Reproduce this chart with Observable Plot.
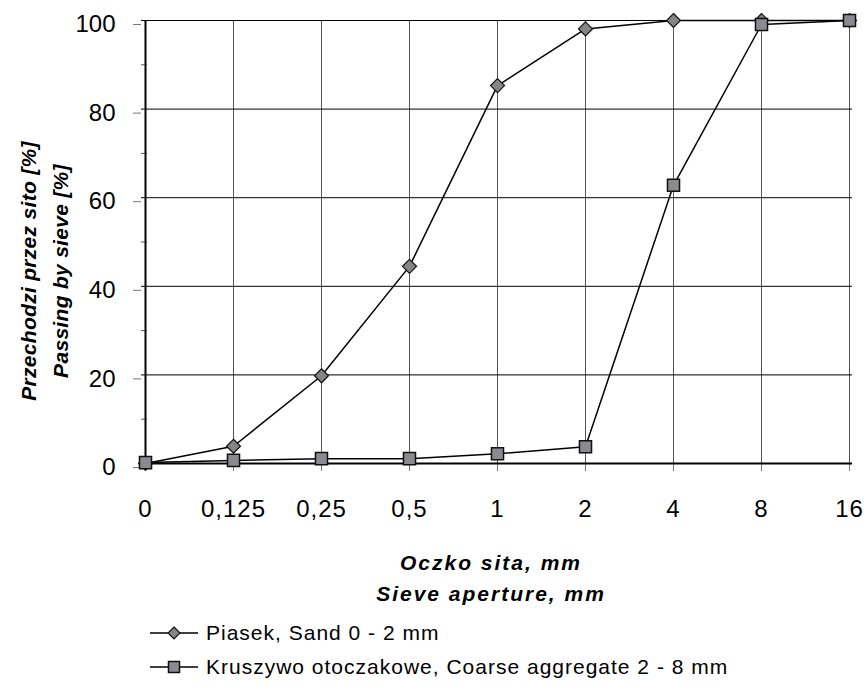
<!DOCTYPE html>
<html><head><meta charset="utf-8">
<script src="https://cdn.jsdelivr.net/npm/d3@7"></script>
<script src="https://cdn.jsdelivr.net/npm/@observablehq/plot@0.6"></script>
<style>
body{margin:0;background:#fff;}
#chart{font-family:"Liberation Sans",Arial,sans-serif;}
#chart g[aria-label="x-axis tick label"] text{letter-spacing:1px;}
#legend{font-family:"Liberation Sans",Arial,sans-serif;font-size:21px;letter-spacing:1px;color:#000;padding-top:6px;margin-left:150px;}
#legend .row{height:34px;display:flex;align-items:center;}
#legend svg{margin-right:8px;}
</style></head><body>
<div id="chart"></div>
<div id="legend"></div>
<script>
const sieves = ["0", "0,125", "0,25", "0,5", "1", "2", "4", "8", "16"];
const sandPass = [0, 3.9, 19.8, 44.5, 85.3, 98.1, 100, 100, 100];
const coarsePass = [0.2, 0.7, 1.1, 1.1, 2.2, 3.8, 62.8, 99.1, 100];
const yTicks = [0, 20, 40, 60, 80, 100];
const yMinor = [10, 30, 50, 70, 90];
const seriesNames = ["Piasek, Sand 0 - 2 mm", "Kruszywo otoczakowe, Coarse aggregate 2 - 8 mm"];
const xTitle = ["Oczko sita, mm", "Sieve aperture, mm"];
const yTitle = ["Przechodzi przez sito [%]", "Passing by sieve [%]"];

const sandData = sieves.map((s, i) => ({sieve: s, pass: sandPass[i]}));
const coarseData = sieves.map((s, i) => ({sieve: s, pass: coarsePass[i]}));

const chart = Plot.plot({
  width: 866, height: 610,
  marginLeft: 141, marginRight: 14, marginTop: 20, marginBottom: 147,
  style: {background: "white", overflow: "visible", fontFamily: '"Liberation Sans",Arial,sans-serif'},
  x: {type: "point", domain: sieves, padding: 0},
  y: {domain: [0, 100]},
  marks: [
    Plot.ruleX(sieves.slice(1), {stroke: "#555", strokeWidth: 1}),
    Plot.ruleY(yTicks.slice(1), {stroke: "#000", strokeWidth: 1}),
    Plot.axisY({ticks: yTicks, tickSize: 8, tickPadding: 18, fontSize: 24, dy: 4, stroke: "#777", fill: "#000", label: null}),
    Plot.axisY({ticks: yMinor, tickSize: -6, tickFormat: () => "", stroke: "#555", label: null}),
    Plot.axisX({tickSize: 8, tickPadding: 28, fontSize: 24, stroke: "#777", fill: "#000", label: null}),
    Plot.ruleX([sieves[0]], {stroke: "#000", strokeWidth: 2}),
    Plot.ruleY([0], {stroke: "#000", strokeWidth: 2}),
    Plot.line(sandData, {x: "sieve", y: "pass", stroke: "#000", strokeWidth: 1.5}),
    Plot.line(coarseData, {x: "sieve", y: "pass", stroke: "#000", strokeWidth: 1.5}),
    Plot.dot(sandData, {x: "sieve", y: "pass", symbol: "diamond2", r: 6.3, fill: "#858585", stroke: "#111", strokeWidth: 1.2}),
    Plot.dot(coarseData, {x: "sieve", y: "pass", symbol: "square", r: 6.8, fill: "#8a8a90", stroke: "#111", strokeWidth: 1.5}),
    Plot.text([yTitle.join("\n")], {text: d => d, frameAnchor: "left", rotate: -90, dx: -100, dy: 29, fontSize: 21, fontWeight: "bold", fontStyle: "italic", lineHeight: 1.52, textAnchor: "middle", lineAnchor: "middle", fill: "#000"}),
    Plot.text([xTitle.join("\n")], {text: d => d, frameAnchor: "bottom", dx: -6, dy: 84, fontSize: 21, fontWeight: "bold", fontStyle: "italic", lineHeight: 1.48, textAnchor: "middle", lineAnchor: "top", fill: "#000"})
  ]
});
document.getElementById("chart").append(chart);
const titleSpacing = ["0.3px", "2px"];
d3.select(chart).selectAll('g[aria-label="text"]').each(function(_, i) {
  d3.select(this).style("letter-spacing", titleSpacing[i]);
});

const legend = d3.select("#legend");
seriesNames.forEach((name, i) => {
  const row = legend.append("div").attr("class", "row");
  const sw = row.append("svg").attr("width", 48).attr("height", 20);
  sw.append("line").attr("x1", 0).attr("x2", 48).attr("y1", 10).attr("y2", 10).attr("stroke", "#000").attr("stroke-width", 1.5);
  if (i === 0) {
    sw.append("path").attr("d", "M24,4L30,10L24,16L18,10Z").attr("fill", "#858585").attr("stroke", "#111").attr("stroke-width", 1.2);
  } else {
    sw.append("rect").attr("x", 18.5).attr("y", 4.5).attr("width", 11).attr("height", 11).attr("fill", "#8a8a90").attr("stroke", "#111").attr("stroke-width", 1.5);
  }
  row.append("span").text(name);
});
</script>
</body></html>
